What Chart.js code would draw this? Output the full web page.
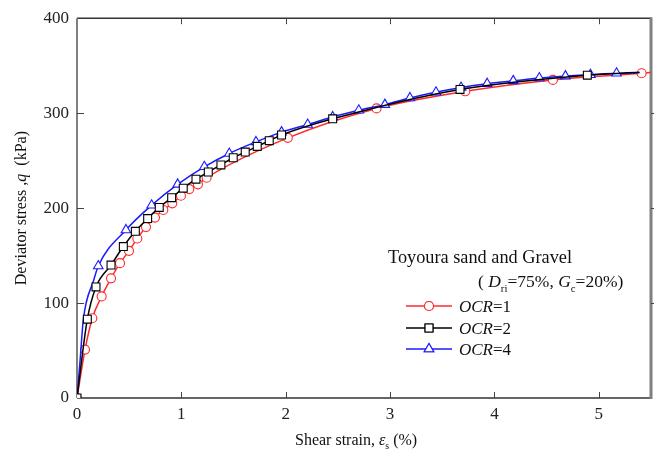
<!DOCTYPE html>
<html>
<head>
<meta charset="utf-8">
<script src="https://cdn.jsdelivr.net/npm/chart.js@4.4.1/dist/chart.umd.min.js"></script>
<style>
  html, body { margin: 0; padding: 0; background: #fff; }
  #wrap { width: 662px; height: 454px; }
</style>
</head>
<body>
<div id="wrap"><canvas id="chart" width="662" height="454"></canvas></div>
<script>
// values: shear strain (%) vs deviator stress q (kPa)
const strainTicks = [0, 1, 2, 3, 4, 5];
const stressTicks = [0, 100, 200, 300, 400];

const ocr1Strain = [0, 0.077, 0.147, 0.236, 0.326, 0.412, 0.498, 0.578, 0.661, 0.747, 0.827, 0.913, 0.996, 1.076, 1.159, 1.242, 2.02, 2.87, 3.72, 4.56, 5.41, 5.5];
const ocr1Stress = [0, 51, 84, 107, 126, 142, 155, 168, 180, 190, 198, 205, 213, 220, 225, 232, 274, 305, 323, 335, 342, 343];
const ocr1Mark   = [1, 1, 1, 1, 1, 1, 1, 1, 1, 1, 1, 1, 1, 1, 1, 1, 1, 1, 1, 1, 1, 0];

const ocr2Strain = [0, 0.099, 0.182, 0.326, 0.444, 0.559, 0.677, 0.788, 0.907, 1.018, 1.14, 1.258, 1.379, 1.497, 1.612, 1.727, 1.842, 1.96, 2.45, 3.67, 4.89, 5.39];
const ocr2Stress = [0, 83, 117, 140, 159.5, 175.5, 189, 200.7, 211, 221, 230.5, 238, 245.5, 253, 259, 265, 271, 277, 294, 325, 340, 343];
const ocr2Mark   = [1, 1, 1, 1, 1, 1, 1, 1, 1, 1, 1, 1, 1, 1, 1, 1, 1, 1, 1, 1, 1, 0];

const ocr4Strain = [0, 0.03, 0.06, 0.16, 0.204, 0.469, 0.715, 0.964, 1.22, 1.459, 1.715, 1.96, 2.21, 2.45, 2.70, 2.95, 3.19, 3.44, 3.68, 3.93, 4.18, 4.43, 4.68, 4.92, 5.17, 5.39];
const ocr4Stress = [0, 40, 82, 124, 139, 177, 203, 225, 243.5, 257.5, 269.7, 280, 288, 296, 303, 309, 316, 322, 327, 331, 334, 337, 339, 340.5, 342, 342.5];
const ocr4Mark   = [1, 0, 0, 0, 1, 1, 1, 1, 1, 1, 1, 1, 1, 1, 1, 1, 1, 1, 1, 1, 1, 1, 1, 1, 1, 0];

const RED = '#ff2a2a', BLACK = '#000000', BLUE = '#1a1aff';
const SERIF = '"Liberation Serif", "Times New Roman", serif';

function toPoints(xs, ys) {
    return xs.map((x, i) => ({ x: x, y: ys[i] }));
}

function series(label, xs, ys, marks, color, style, r, order) {
    return {
        label: label,
        data: toPoints(xs, ys),
        showLine: true,
        borderColor: color,
        borderWidth: 1.5,
        backgroundColor: '#ffffff',
        pointStyle: style,
        pointRadius: ctx => marks[ctx.dataIndex] ? r : 0,
        pointBorderColor: color,
        pointBackgroundColor: '#ffffff',
        pointBorderWidth: 1.1,
        cubicInterpolationMode: 'monotone',
        order: order
    };
}

// draw a row of text pieces (italic / subscript)
function drawRuns(ctx, x, y, runs, size) {
    runs.forEach(run => {
        const fs = run.sub ? size * 0.62 : size;
        ctx.font = (run.italic ? 'italic ' : '') + fs + 'px ' + SERIF;
        const dy = run.sub ? size * 0.28 : 0;
        ctx.fillText(run.t, x, y + dy);
        x += ctx.measureText(run.t).width;
    });
    return x;
}

function runsWidth(ctx, runs, size) {
    let w = 0;
    runs.forEach(run => {
        const fs = run.sub ? size * 0.62 : size;
        ctx.font = (run.italic ? 'italic ' : '') + fs + 'px ' + SERIF;
        w += ctx.measureText(run.t).width;
    });
    return w;
}

const framePlugin = {
    id: 'frame',
    beforeDatasetsDraw(chart) {
        const { ctx, chartArea: a, scales } = chart;
        ctx.save();
        // box
        ctx.lineWidth = 1.5;
        ctx.strokeStyle = '#333';
        ctx.beginPath();
        ctx.moveTo(a.left, a.top); ctx.lineTo(a.right, a.top);
        ctx.moveTo(a.left, a.bottom); ctx.lineTo(a.right, a.bottom);
        ctx.stroke();
        ctx.strokeStyle = '#808080';
        ctx.lineWidth = 2;
        ctx.beginPath();
        ctx.moveTo(a.left, a.top); ctx.lineTo(a.left, a.bottom);
        ctx.stroke();
        ctx.lineWidth = 3;
        ctx.beginPath();
        ctx.moveTo(a.right, a.top - 1); ctx.lineTo(a.right, a.bottom + 1);
        ctx.stroke();
        // inward ticks
        ctx.lineWidth = 1;
        ctx.strokeStyle = '#444';
        ctx.beginPath();
        strainTicks.forEach(v => {
            const px = Math.round(scales.x.getPixelForValue(v)) + 0.5;
            if (v === 0) return;
            ctx.moveTo(px, a.bottom); ctx.lineTo(px, a.bottom - 6);
            ctx.moveTo(px, a.top); ctx.lineTo(px, a.top + 6);
        });
        stressTicks.forEach(v => {
            const py = Math.round(scales.y.getPixelForValue(v)) + 0.5;
            if (v === 0 || v === 400) return;
            ctx.moveTo(a.left, py); ctx.lineTo(a.left + 7, py);
            ctx.moveTo(a.right, py); ctx.lineTo(a.right + 3, py);
        });
        ctx.stroke();
        ctx.restore();
    },
    afterDraw(chart) {
        const { ctx, chartArea: a } = chart;
        ctx.save();
        ctx.fillStyle = '#111';
        ctx.textBaseline = 'alphabetic';
        ctx.textAlign = 'left';

        // x axis title
        const xRuns = [{ t: 'Shear strain, ' }, { t: 'ε', italic: true }, { t: 's', sub: true }, { t: ' (%)' }];
        drawRuns(ctx, 295, 445, xRuns, 16);

        // y axis title, rotated
        const yRuns = [{ t: 'Deviator stress ,' }, { t: 'q', italic: true }, { t: '  (kPa)' }];
        const yw = runsWidth(ctx, yRuns, 16);
        ctx.save();
        ctx.translate(26, (a.top + a.bottom) / 2);
        ctx.rotate(-Math.PI / 2);
        drawRuns(ctx, -yw / 2, 0, yRuns, 16);
        ctx.restore();

        // legend block
        drawRuns(ctx, 388, 263, [{ t: 'Toyoura sand and Gravel' }], 18.3);
        drawRuns(ctx, 478, 287, [
            { t: '( ' }, { t: 'D', italic: true }, { t: 'ri', sub: true }, { t: '=75%, ' },
            { t: 'G', italic: true }, { t: 'c', sub: true }, { t: '=20%)' }
        ], 17.5);

        const rows = [
            { y: 306, color: RED, style: 'circle', r: 4.5, n: '1' },
            { y: 328, color: BLACK, style: 'rect', r: 5.6, n: '2' },
            { y: 349, color: BLUE, style: 'triangle', r: 5.5, n: '4' }
        ];
        rows.forEach(row => {
            ctx.strokeStyle = row.color;
            ctx.lineWidth = 1.5;
            ctx.beginPath();
            ctx.moveTo(406, row.y); ctx.lineTo(452, row.y);
            ctx.stroke();
            ctx.fillStyle = '#ffffff';
            ctx.lineWidth = 1.1;
            Chart.helpers.drawPoint(ctx, { pointStyle: row.style, radius: row.r, borderWidth: 1.1 }, 429, row.y);
            ctx.fill();
            ctx.stroke();
            ctx.fillStyle = '#111';
            drawRuns(ctx, 459, row.y + 6, [{ t: 'OCR', italic: true }, { t: '=' + row.n }], 17);
        });
        ctx.restore();
    }
};

const chart = new Chart(document.getElementById('chart'), {
    type: 'scatter',
    data: {
        datasets: [
            series('OCR=1', ocr1Strain, ocr1Stress, ocr1Mark, RED, 'circle', 4.5, 2),
            series('OCR=2', ocr2Strain, ocr2Stress, ocr2Mark, BLACK, 'rect', 5.6, 0),
            series('OCR=4', ocr4Strain, ocr4Stress, ocr4Mark, BLUE, 'triangle', 5.5, 1)
        ]
    },
    options: {
        responsive: false,
        animation: false,
        devicePixelRatio: 1,
        layout: { padding: { top: 17, right: 11, left: 0, bottom: 0 } },
        plugins: { legend: { display: false }, tooltip: { enabled: false } },
        scales: {
            x: {
                type: 'linear', min: 0, max: 5.5,
                grid: { display: false, drawTicks: false },
                border: { display: false },
                afterBuildTicks: axis => { axis.ticks = strainTicks.map(v => ({ value: v })); },
                afterFit: axis => { axis.height = 56; },
                ticks: { padding: 6, color: '#222', font: { family: SERIF, size: 17 } }
            },
            y: {
                type: 'linear', min: 0, max: 400,
                grid: { display: false, drawTicks: false },
                border: { display: false },
                afterBuildTicks: axis => { axis.ticks = stressTicks.map(v => ({ value: v })); },
                afterFit: axis => { axis.width = 77; },
                ticks: { padding: 8, color: '#222', font: { family: SERIF, size: 17 } }
            }
        }
    },
    plugins: [framePlugin]
});
</script>
</body>
</html>
